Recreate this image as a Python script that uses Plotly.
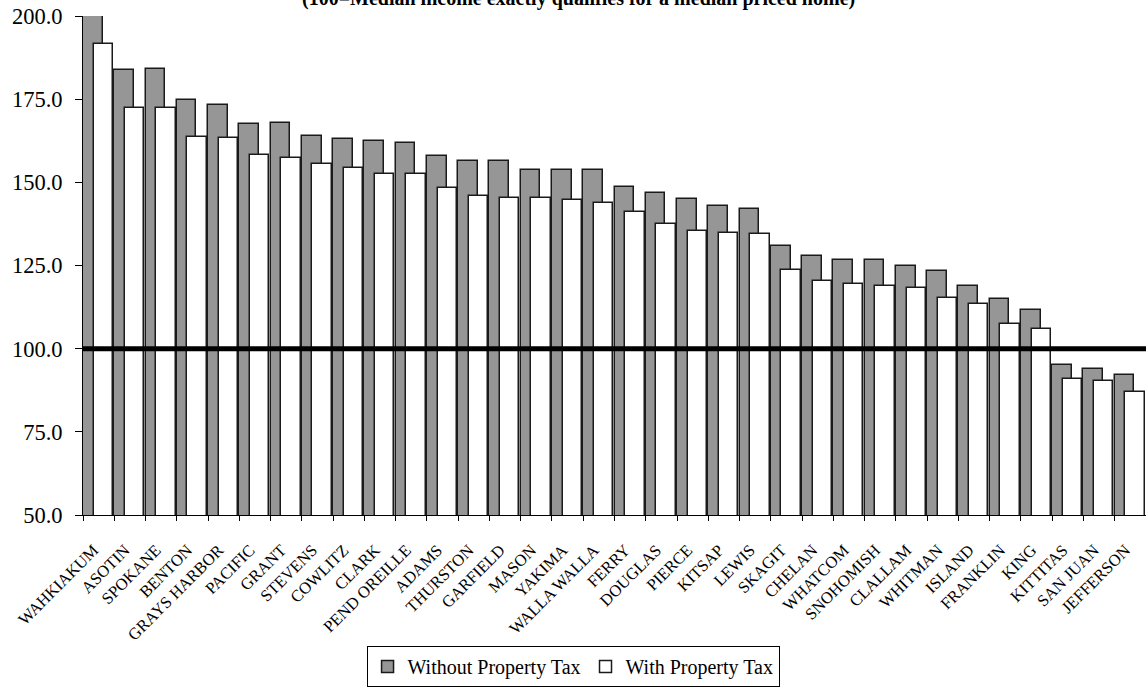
import plotly.graph_objects as go

counties = ["WAHKIAKUM", "ASOTIN", "SPOKANE", "BENTON", "GRAYS HARBOR", "PACIFIC", "GRANT",
            "STEVENS", "COWLITZ", "CLARK", "PEND OREILLE", "ADAMS", "THURSTON", "GARFIELD",
            "MASON", "YAKIMA", "WALLA WALLA", "FERRY", "DOUGLAS", "PIERCE", "KITSAP", "LEWIS",
            "SKAGIT", "CHELAN", "WHATCOM", "SNOHOMISH", "CLALLAM", "WHITMAN", "ISLAND",
            "FRANKLIN", "KING", "KITTITAS", "SAN JUAN", "JEFFERSON"]

without_tax = [200.6, 183.9, 184.1, 174.8, 173.1, 167.4, 167.8, 163.9, 162.9, 162.3, 161.9,
               157.8, 156.5, 156.5, 153.8, 153.8, 153.6, 148.5, 146.7, 145.1, 142.9, 141.9,
               130.8, 127.8, 126.8, 126.6, 124.8, 123.2, 118.8, 115.0, 111.7, 95.1, 93.8, 92.1]

with_tax = [191.6, 172.3, 172.2, 163.6, 163.2, 158.2, 157.2, 155.6, 154.3, 152.6, 152.4,
            148.3, 146.0, 145.4, 145.4, 144.8, 143.8, 141.2, 137.4, 135.5, 134.8, 134.4,
            123.6, 120.3, 119.5, 118.8, 118.3, 115.3, 113.4, 107.3, 105.9, 90.8, 90.4, 87.1]

reference_level = 100
y_ticks = [50, 75, 100, 125, 150, 175, 200]
series_names = ["Without Property Tax", "With Property Tax"]
title_text = "(100=Median income exactly qualifies for a median priced home)"

FONT = "Liberation Serif, Times New Roman, serif"

fig = go.Figure()
fig.add_trace(go.Bar(
    x=counties, y=without_tax, name=series_names[0],
    base=0, offset=-0.5, width=0.63,
    marker=dict(color="#969696", line=dict(color="#1a1a1a", width=1.5)),
))
fig.add_trace(go.Bar(
    x=counties, y=with_tax, name=series_names[1],
    base=0, offset=-0.16, width=0.62,
    marker=dict(color="#ffffff", line=dict(color="#1a1a1a", width=1.5)),
))

fig.add_shape(type="line", xref="paper", x0=0, x1=1, yref="y",
              y0=reference_level, y1=reference_level,
              line=dict(color="black", width=5))

fig.add_annotation(text="<b>" + title_text + "</b>", xref="paper", yref="paper",
                   x=0.466, y=1.036, xanchor="center", yanchor="middle",
                   showarrow=False, font=dict(family=FONT, size=20, color="black"))

fig.update_layout(
    width=1146, height=687,
    margin=dict(l=83, r=0, t=16, b=171),
    paper_bgcolor="white", plot_bgcolor="white",
    barmode="overlay", bargap=0,
    font=dict(family=FONT, color="black"),
    showlegend=True,
    legend=dict(orientation="h", x=0.461, xanchor="center", y=-0.262, yanchor="top",
                bordercolor="black", borderwidth=1,
                font=dict(family=FONT, size=20, color="black"),
                itemwidth=30, traceorder="normal"),
)
fig.update_xaxes(
    type="category", showline=True, linecolor="black", linewidth=1,
    ticks="outside", tickson="boundaries", ticklen=5, tickcolor="black",
    tickangle=-45, tickfont=dict(family=FONT, size=16.5, color="black"), showgrid=False,
    ticklabelstandoff=18, ticklabelshift=-5,
    range=[-0.5, len(counties) - 0.5],
)
fig.update_yaxes(
    range=[50, 200], tickvals=y_ticks, tickformat=".1f",
    showline=True, linecolor="black", linewidth=1,
    ticks="outside", ticklen=7, tickcolor="black",
    tickfont=dict(family=FONT, size=22.5, color="black"), showgrid=False, zeroline=False,
    ticklabelstandoff=8,
)

fig.write_html("out.html")
